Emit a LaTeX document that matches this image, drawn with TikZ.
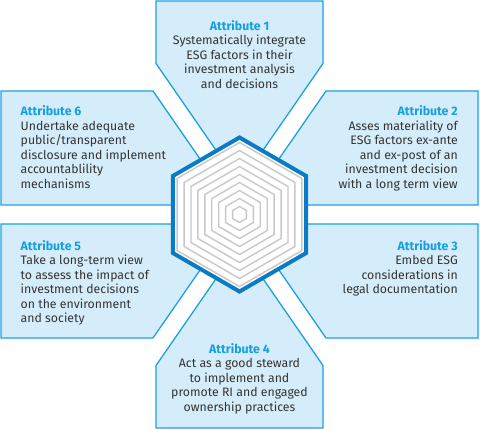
\documentclass[tikz,border=0pt]{standalone}
\usepackage{fontspec}
\setmainfont{Fira Sans}
\usetikzlibrary{positioning}

\definecolor{panelblue}{HTML}{D5EDFB}
\definecolor{edgeblue}{HTML}{1BA1E2}
\definecolor{hexblue}{HTML}{0B7BC6}
\definecolor{headblue}{HTML}{139FE0}
\definecolor{ringgray}{HTML}{C8C8C8}
\definecolor{bodygray}{HTML}{333333}

\newcommand{\attr}[1]{\textcolor{headblue}{\bfseries #1}}

\begin{document}
\begin{tikzpicture}[
    x=1pt, y=-1pt,
    panel/.style={draw=edgeblue, fill=panelblue, line width=1.3pt, line join=miter},
    ring/.style={draw=ringgray, line width=1.4pt},
    hexrim/.style={draw=hexblue, fill=white, line width=4pt, line join=miter},
    txt/.style={inner sep=0pt, text=bodygray,
                font=\fontsize{12.3}{14.5}\selectfont}
  ]
  \useasboundingbox (0,0) rectangle (480,430);

  % panels round the hexagon
  \draw[panel] (156,1) -- (323,1) -- (323,63.5) -- (239.5,184.2) -- (156,63.5) -- cycle;
  \draw[panel] (326,91) -- (478,91) -- (478,205) -- (247.1,205) -- cycle;
  \draw[panel] (247.1,224) -- (478,224) -- (478,338) -- (326,338) -- cycle;
  \draw[panel] (156,428) -- (323,428) -- (323,365.5) -- (239.5,244.8) -- (156,365.5) -- cycle;
  \draw[panel] (1,224) -- (231.9,224) -- (153,338) -- (1,338) -- cycle;
  \draw[panel] (1,91) -- (153,91) -- (231.9,205) -- (1,205) -- cycle;

  % hexagon with rings
  \begin{scope}[shift={(239.5,214.5)}]
    \draw[hexrim] (90:77) -- (150:77) -- (210:77) -- (270:77) -- (330:77) -- (30:77) -- cycle;
    \foreach \r in {8,16,...,72}
      \draw[ring] (90:\r) -- (150:\r) -- (210:\r) -- (270:\r) -- (330:\r) -- (30:\r) -- cycle;
  \end{scope}

  \node (a1) [txt, align=center, anchor=north] at (239.5,20)
    {\attr{Attribute 1}\\Systematically integrate\\ESG factors in their\\investment analysis\\and decisions};
  \node (a2) [txt, align=right, anchor=north east] at (458,105.5)
    {\attr{Attribute 2}\\Asses materiality of\\ESG factors ex-ante\\and ex-post of an\\investment decision\\with a long term view};
  \node (a3) [txt, align=right, anchor=north east] at (458,240)
    {\attr{Attribute 3}\\Embed ESG\\considerations in\\legal documentation};
  \node (a4) [txt, align=center, anchor=north] at (239.5,343)
    {\attr{Attribute 4}\\Act as a good steward\\to implement and\\promote RI and engaged\\ownership practices};
  \node (a5) [txt, align=left, anchor=north west] at (20.5,240)
    {\attr{Attribute 5}\\Take a long-term view\\to assess the impact of\\investment decisions\\on the environment\\and society};
  \node (a6) [txt, align=left, anchor=north west] at (20.5,105.5)
    {\attr{Attribute 6}\\Undertake adequate\\public/transparent\\disclosure and implement\\accountablility\\mechanisms};
\end{tikzpicture}
\end{document}
